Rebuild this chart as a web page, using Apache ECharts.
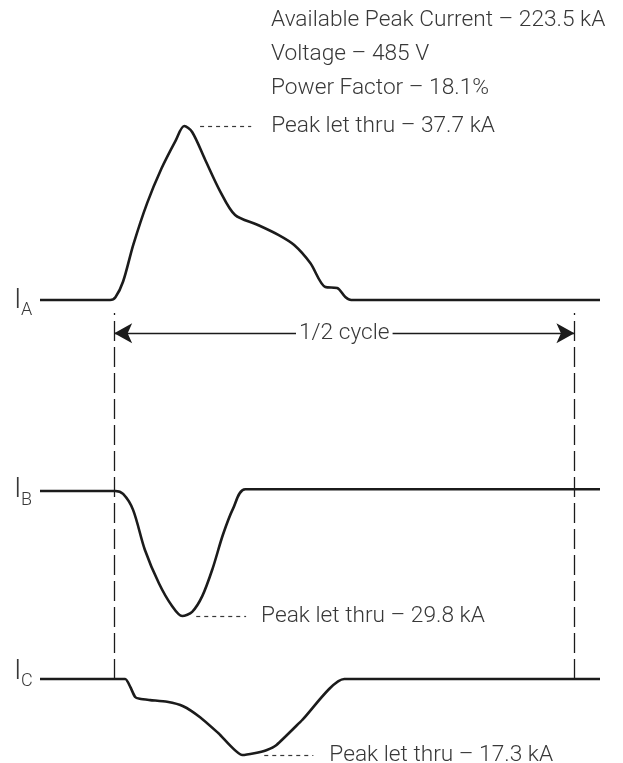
<!DOCTYPE html>
<html>
<head>
<meta charset="utf-8">
<script src="https://cdn.jsdelivr.net/npm/echarts@6/dist/echarts.min.js"></script>
<style>
html,body{margin:0;padding:0;background:#fff;}
#chart{width:623px;height:763px;}
</style>
</head>
<body>
<div id="chart"></div>
<script>
// time axis in electrical degrees (0..180 = 1/2 cycle), currents in kA
const axisMinDeg = -29;
const axisMaxDeg = 190;

const headerLines = ['Available Peak Current – 223.5 kA', 'Voltage – 485 V', 'Power Factor – 18.1%'];

const phaseNames = ['A', 'B', 'C'];
const peakLetThru = [37.7, -29.8, -17.3];
const peakLabels = ['Peak let thru – 37.7 kA', 'Peak let thru – 29.8 kA', 'Peak let thru – 17.3 kA'];

const degA = [-29, -1.6, 0.5, 3.5, 7.5, 12.9, 18.5, 24.0, 27.4, 30.5, 35.5, 41.5, 47.3, 56.0, 64.2, 70.4, 76.7, 82.6, 87.2, 90.4, 92.7, 190];
const kA_A = [0, 0, 0.6, 4.0, 12.0, 21.0, 28.5, 34.5, 37.7, 36.4, 30.5, 23.5, 18.4, 16.3, 14.1, 11.9, 8.0, 2.8, 2.6, 0.65, 0, 0];

const degB = [-29, 0.4, 3.5, 7.4, 12.0, 17.5, 22.5, 26.6, 30.5, 34.5, 38.5, 42.5, 46.5, 51.3, 190];
const kA_B = [0, 0, -0.7, -4.5, -14.0, -22.0, -27.3, -29.8, -28.8, -25.0, -18.5, -10.5, -4.2, 0.4, 0.4];

const degC = [-29, 4.3, 6.3, 8.2, 10.0, 14.1, 20.7, 27.0, 33.6, 40.7, 50.1, 54.8, 59.5, 63.5, 73.6, 90.0, 190];
const kA_C = [0, 0, -1.8, -4.1, -4.5, -4.8, -5.2, -6.2, -8.7, -12.3, -17.3, -16.9, -16.2, -15.0, -9.3, 0, 0];

const leaderStartDeg = [33.6, 32.1, 58.7];
const leaderEndDeg = [53.6, 51.6, 77.9];

const halfCycleStart = 0;
const halfCycleEnd = 180;
const halfCycleLabel = '1/2 cycle';

const FONT = 'Roboto';
const FS = 22.7;
const TXT = '#383838';
const INK = '#1b1b1b';

function pairs(xs, ys) { return xs.map((x, i) => [x, ys[i]]); }

const chart = echarts.init(document.getElementById('chart'), null, {renderer: 'canvas'});

const grids = [
  {left: 40, width: 560, top: 126, height: 174},   // I_A
  {left: 40, width: 560, top: 491, height: 125},   // I_B
  {left: 40, width: 560, top: 679, height: 76},    // I_C
  {left: 40, width: 560, top: 313, height: 366}    // overlay for 1/2 cycle markers
];

const xAxes = grids.map((g, i) => ({gridIndex: i, type: 'value', min: axisMinDeg, max: axisMaxDeg, show: false}));
const yAxes = [
  {gridIndex: 0, type: 'value', min: 0, max: peakLetThru[0], show: false},
  {gridIndex: 1, type: 'value', min: peakLetThru[1], max: 0, show: false},
  {gridIndex: 2, type: 'value', min: peakLetThru[2], max: 0, show: false},
  {gridIndex: 3, type: 'value', min: 0, max: 1, show: false}
];

const waves = [pairs(degA, kA_A), pairs(degB, kA_B), pairs(degC, kA_C)];
const labelDist = [20, 15, 16];
const smoothness = [0.3, 0.3, 0.2];

const series = waves.map((d, i) => ({
  type: 'line',
  xAxisIndex: i, yAxisIndex: i,
  data: d,
  showSymbol: false,
  symbol: 'none',
  smooth: smoothness[i],
  clip: false,
  silent: true,
  lineStyle: {color: INK, width: 2.6, join: 'round'},
  markLine: {
    silent: true,
    symbol: 'none',
    animation: false,
    lineStyle: {color: TXT, width: 1.2, type: [4, 4]},
    label: {
      show: true, position: 'end', distance: labelDist[i],
      formatter: peakLabels[i],
      color: TXT, fontFamily: FONT, fontSize: FS, fontWeight: 300
    },
    data: [[{coord: [leaderStartDeg[i], peakLetThru[i]]}, {coord: [leaderEndDeg[i], peakLetThru[i]]}]]
  }
}));

series.push({
  type: 'line',
  xAxisIndex: 3, yAxisIndex: 3,
  data: [],
  silent: true,
  markLine: {
    silent: true,
    animation: false,
    symbol: 'none',
    lineStyle: {color: INK, width: 1.3, type: [20, 6]},
    label: {show: false},
    data: [{xAxis: halfCycleStart}, {xAxis: halfCycleEnd}]
  }
});

series.push({
  type: 'line',
  xAxisIndex: 3, yAxisIndex: 3,
  data: [],
  silent: true,
  markLine: {
    silent: true,
    animation: false,
    symbol: ['arrow', 'arrow'],
    symbolSize: [15, 18],
    lineStyle: {color: INK, width: 1.3, type: 'solid'},
    label: {
      show: true, position: 'middle', distance: 0, verticalAlign: 'middle',
      formatter: halfCycleLabel,
      color: TXT, fontFamily: FONT, fontSize: FS, fontWeight: 300,
      backgroundColor: '#fff', padding: [0, 3]
    },
    data: [[{coord: [halfCycleStart, 0.945]}, {coord: [halfCycleEnd, 0.945]}]]
  }
});

const phaseLabelPos = [
  {iy: 304, sy: 312},
  {iy: 493, sy: 502},
  {iy: 675, sy: 683}
];
const graphic = [];
phaseNames.forEach((n, i) => {
  graphic.push({type: 'text', left: 14, top: phaseLabelPos[i].iy - 17, style: {text: 'I', fontFamily: FONT, fontSize: 28, fontWeight: 300, fill: TXT}});
  graphic.push({type: 'text', left: 21, top: phaseLabelPos[i].sy - 11, style: {text: n, fontFamily: FONT, fontSize: 18, fontWeight: 300, fill: TXT}});
});

chart.setOption({
  animation: false,
  backgroundColor: '#fff',
  title: {
    text: headerLines.join('\n'),
    left: 271, top: 3,
    padding: 0,
    textStyle: {fontFamily: FONT, fontSize: FS, fontWeight: 300, color: TXT, lineHeight: 34}
  },
  grid: grids,
  xAxis: xAxes,
  yAxis: yAxes,
  series: series,
  graphic: graphic
});
</script>
</body>
</html>
